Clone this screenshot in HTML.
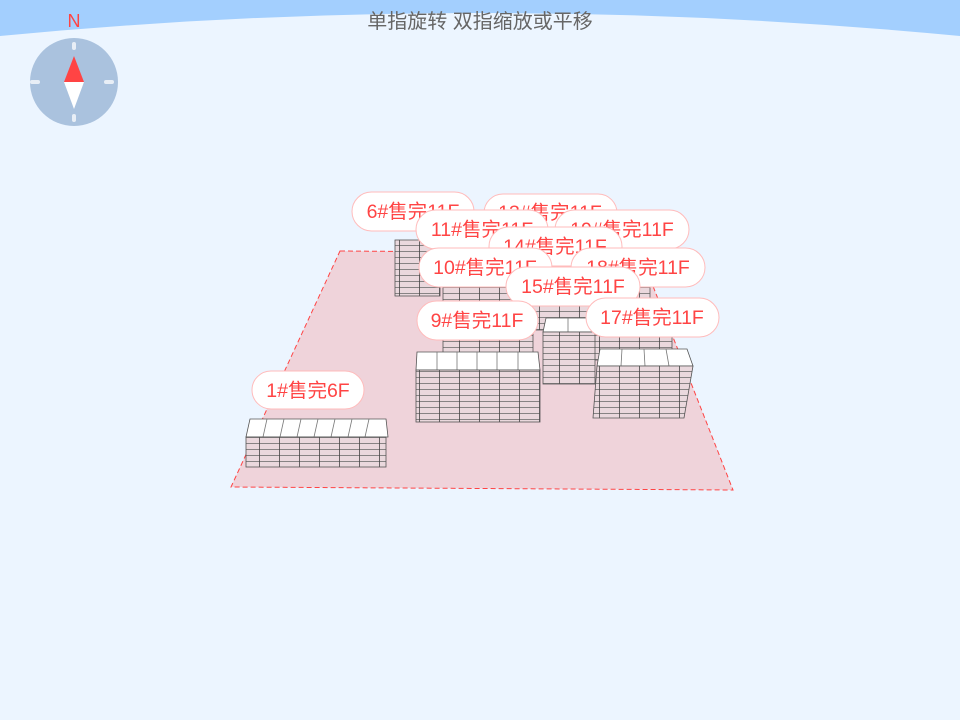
<!DOCTYPE html>
<html><head><meta charset="utf-8"><style>
html,body{margin:0;padding:0;width:960px;height:720px;overflow:hidden;background:#ecf5ff}
svg{display:block}
</style></head><body>
<svg width="960" height="720" viewBox="0 0 960 720" xmlns="http://www.w3.org/2000/svg" font-family="Liberation Sans, Noto Sans CJK SC, sans-serif">
<defs>
<pattern id="fl" patternUnits="userSpaceOnUse" width="20" height="6">
<rect width="20" height="6" fill="#ead8dd"/>
<line x1="0" y1="5.5" x2="20" y2="5.5" stroke="#666" stroke-width="0.7"/>
<line x1="19.5" y1="0" x2="19.5" y2="6" stroke="#444" stroke-width="0.8"/>
</pattern>
</defs>
<rect width="960" height="720" fill="#ecf5ff"/>
<path d="M0,0 H960 V36 Q480,-10 0,36 Z" fill="#a3cffe"/>
<text x="480" y="28" font-size="20" fill="#666" text-anchor="middle">单指旋转 双指缩放或平移</text>
<text x="74" y="27" font-size="18" fill="#f44" text-anchor="middle">N</text>
<circle cx="74" cy="82" r="44" fill="#aac2de"/>
<rect x="72" y="42" width="4" height="8" rx="2" fill="#e8eef6"/>
<rect x="72" y="114" width="4" height="8" rx="2" fill="#e8eef6"/>
<rect x="30" y="80" width="10" height="4" rx="2" fill="#e8eef6"/>
<rect x="104" y="80" width="10" height="4" rx="2" fill="#e8eef6"/>
<polygon points="74,56 64,82 84,82" fill="#f44"/>
<polygon points="74,109 64,82 84,82" fill="#fff"/>
<polygon points="340,251 640,253 733,490 231,487" fill="#efd3da" stroke="#f44" stroke-width="1" stroke-dasharray="5,3"/>
<g stroke="#555" stroke-width="0.8">
<rect x="395" y="240" width="45" height="56" fill="url(#fl)"/>
<rect x="443" y="285" width="90" height="70" fill="url(#fl)"/>
<rect x="600" y="280" width="50" height="40" fill="url(#fl)"/>
<rect x="530" y="300" width="60" height="30" fill="url(#fl)"/>
<rect x="592" y="320" width="80" height="40" fill="url(#fl)"/>
<polygon points="250,419 386,419 388,437 246,437" fill="#fff"/>
<g stroke="#777"><line x1="267" y1="419" x2="263" y2="437"/><line x1="284" y1="419" x2="280" y2="437"/><line x1="301" y1="419" x2="297" y2="437"/><line x1="318" y1="419" x2="314" y2="437"/><line x1="335" y1="419" x2="331" y2="437"/><line x1="352" y1="419" x2="348" y2="437"/><line x1="369" y1="419" x2="365" y2="437"/></g>
<rect x="246" y="437" width="140" height="30" fill="url(#fl)"/>
<polygon points="417,352 538,352 540,370 416,370" fill="#fff"/>
<g stroke="#777"><line x1="437" y1="352" x2="437" y2="370"/><line x1="457" y1="352" x2="457" y2="370"/><line x1="477" y1="352" x2="477" y2="370"/><line x1="497" y1="352" x2="497" y2="370"/><line x1="518" y1="352" x2="518" y2="370"/></g>
<rect x="416" y="370" width="124" height="52" fill="url(#fl)"/>
<polygon points="546,318 594,318 596,332 543,332" fill="#fff"/>
<line x1="568" y1="318" x2="568" y2="332" stroke="#777"/>
<rect x="543" y="332" width="52" height="52" fill="url(#fl)"/>
<polygon points="600,349 687,349 693,366 597,366" fill="#fff"/>
<g stroke="#777"><line x1="622" y1="349" x2="621" y2="366"/><line x1="644" y1="349" x2="645" y2="366"/><line x1="666" y1="349" x2="669" y2="366"/></g>
<polygon points="597,366 693,366 684,418 593,418" fill="url(#fl)"/>
</g>
<g font-size="19.5" fill="#f44" text-anchor="middle">
<rect x="352" y="192" width="122" height="39" rx="19.5" fill="#fff" stroke="#fbb"/><text x="413" y="218">6#售完11F</text>
<rect x="484" y="194" width="133" height="38" rx="19" fill="#fff" stroke="#fbb"/><text x="550" y="219">13#售完11F</text>
<rect x="416" y="210" width="132" height="39" rx="19.5" fill="#fff" stroke="#fbb"/><text x="482" y="236">11#售完11F</text>
<rect x="555" y="210" width="134" height="39" rx="19.5" fill="#fff" stroke="#fbb"/><text x="622" y="236">19#售完11F</text>
<rect x="489" y="227" width="133" height="39" rx="19.5" fill="#fff" stroke="#fbb"/><text x="555" y="253">14#售完11F</text>
<rect x="419" y="248" width="133" height="39" rx="19.5" fill="#fff" stroke="#fbb"/><text x="485" y="274">10#售完11F</text>
<rect x="571" y="248" width="134" height="39" rx="19.5" fill="#fff" stroke="#fbb"/><text x="638" y="274">18#售完11F</text>
<rect x="506" y="267" width="134" height="39" rx="19.5" fill="#fff" stroke="#fbb"/><text x="573" y="293">15#售完11F</text>
<rect x="417" y="301" width="121" height="39" rx="19.5" fill="#fff" stroke="#fbb"/><text x="477" y="327">9#售完11F</text>
<rect x="586" y="298" width="133" height="39" rx="19.5" fill="#fff" stroke="#fbb"/><text x="652" y="324">17#售完11F</text>
<rect x="252" y="371" width="112" height="38" rx="19" fill="#fff" stroke="#fbb"/><text x="308" y="397">1#售完6F</text>
</g>
</svg>
</body></html>
